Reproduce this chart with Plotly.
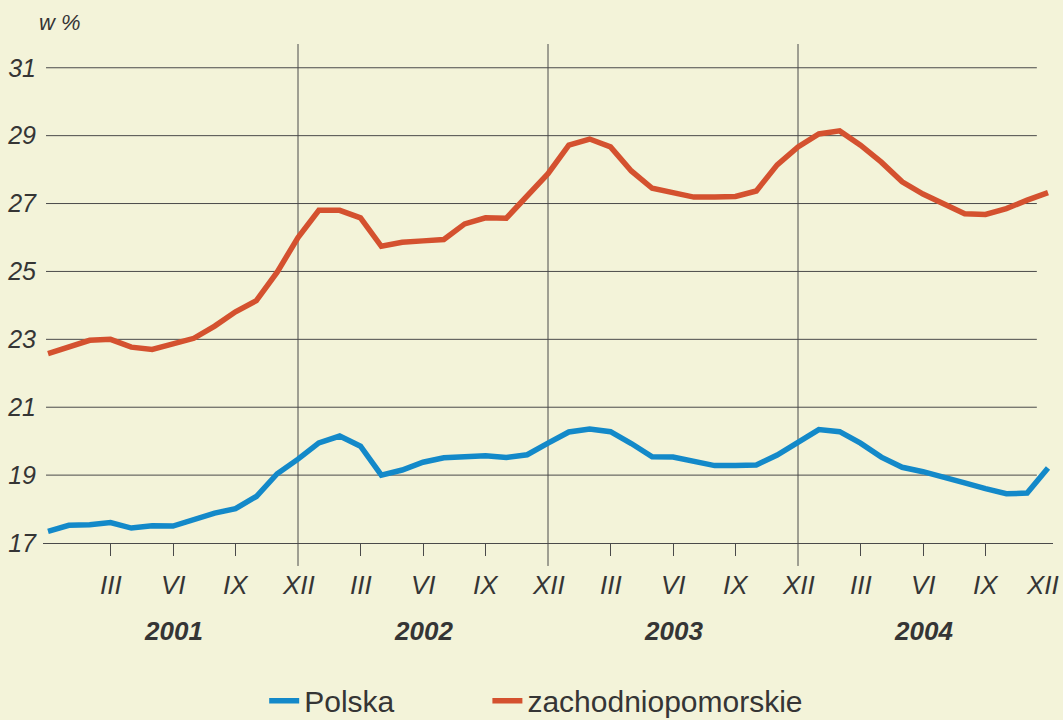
import plotly.graph_objects as go

# month index: 0 = XII 2000 ... 48 = XII 2004
months = list(range(49))

polska = [17.34, 17.52, 17.54, 17.60, 17.44, 17.51, 17.50, 17.69, 17.88, 18.01,
          18.37, 19.04, 19.47, 19.95, 20.15, 19.85, 19.00, 19.15, 19.38, 19.51,
          19.53, 19.57, 19.52, 19.60, 19.94, 20.27, 20.36, 20.28, 19.93, 19.54,
          19.53, 19.39, 19.28, 19.28, 19.30, 19.59, 19.97, 20.34, 20.28, 19.94,
          19.53, 19.23, 19.10, 18.95, 18.77, 18.60, 18.45, 18.47, 19.21]

zachodniopomorskie = [22.58, 22.77, 22.97, 23.00, 22.77, 22.70, 22.87, 23.03, 23.39, 23.81,
                      24.14, 24.98, 26.00, 26.80, 26.80, 26.58, 25.74, 25.86, 25.90, 25.94,
                      26.40, 26.58, 26.57, 27.22, 27.88, 28.72, 28.90, 28.67, 27.96, 27.45,
                      27.30, 27.19, 27.19, 27.21, 27.37, 28.14, 28.67, 29.05, 29.14, 28.72,
                      28.22, 27.64, 27.28, 26.99, 26.70, 26.68, 26.85, 27.10, 27.32]

quarter_ticks = [3, 6, 9, 12, 15, 18, 21, 24, 27, 30, 33, 36, 39, 42, 45, 48]
quarter_labels = ["III", "VI", "IX", "XII"] * 4
year_separators = [12, 24, 36]
years = ["2001", "2002", "2003", "2004"]
year_mid = [6, 18, 30, 42]
y_ticks = [17, 19, 21, 23, 25, 27, 29, 31]

BG = "#F3F3D9"
TXT = "#353535"
GRID = "#4a4a4a"
FONT = "Liberation Sans, Arial, sans-serif"

fig = go.Figure()
fig.add_trace(go.Scatter(x=months, y=polska, mode="lines", name="Polska",
                         legend="legend",
                         line=dict(color="#1389C9", width=5.5)))
fig.add_trace(go.Scatter(x=months, y=zachodniopomorskie, mode="lines",
                         name="zachodniopomorskie", legend="legend2",
                         line=dict(color="#D4512F", width=5.5)))

shapes = []
for v in y_ticks[1:]:
    shapes.append(dict(type="line", xref="paper", yref="y", x0=0.003, x1=0.984,
                       y0=v, y1=v, line=dict(color=GRID, width=1), layer="below"))
for s in year_separators:
    shapes.append(dict(type="line", xref="x", yref="paper", x0=s, x1=s,
                       y0=-0.046, y1=1, line=dict(color=GRID, width=1), layer="below"))

annotations = []
for i, (v, t) in enumerate(zip(quarter_ticks, quarter_labels)):
    annotations.append(dict(x=v, xref="x", y=-0.084, yref="paper", text=t,
                            showarrow=False, xanchor="center", yanchor="middle",
                            xshift=-6 if i == len(quarter_ticks) - 1 else 0,
                            font=dict(family=FONT, size=26, color=TXT, style="italic")))
for v, t in zip(year_mid, years):
    annotations.append(dict(x=v, xref="x", y=-0.176, yref="paper", text=t,
                            showarrow=False, xanchor="center", yanchor="middle",
                            font=dict(family=FONT, size=26, color=TXT, style="italic",
                                      weight="bold")))
annotations.append(dict(x=0.017, xref="paper", y=1.044, yref="paper", text="w %",
                        showarrow=False, xanchor="center", yanchor="middle",
                        font=dict(family=FONT, size=22, color=TXT, style="italic")))

legend_common = dict(orientation="h", xanchor="left", y=-0.316, yanchor="middle",
                     font=dict(family=FONT, size=30, color=TXT),
                     bgcolor="rgba(0,0,0,0)")

fig.update_layout(
    width=1063, height=720,
    margin=dict(l=43, r=10, t=44, b=177, autoexpand=False),
    paper_bgcolor=BG, plot_bgcolor=BG,
    showlegend=True,
    legend=dict(x=0.219, **legend_common),
    legend2=dict(x=0.44, **legend_common),
    shapes=shapes, annotations=annotations,
    xaxis=dict(range=[-0.24, 48.24], showgrid=False, zeroline=False,
               showline=True, linecolor=GRID, linewidth=1,
               tickvals=[v for v in quarter_ticks if v not in year_separators and v != 48],
               ticks="outside", ticklen=12, tickcolor=GRID, tickwidth=1,
               showticklabels=False),
    yaxis=dict(range=[17, 31.7], showgrid=False, zeroline=False, showline=False,
               tickvals=y_ticks, ticks="", ticklabelstandoff=6,
               tickfont=dict(family=FONT, size=25, color=TXT, style="italic")),
    hovermode=False,
)

fig.write_html("out.html", config={"displayModeBar": False},
               post_script="document.body.style.margin='0px';")
